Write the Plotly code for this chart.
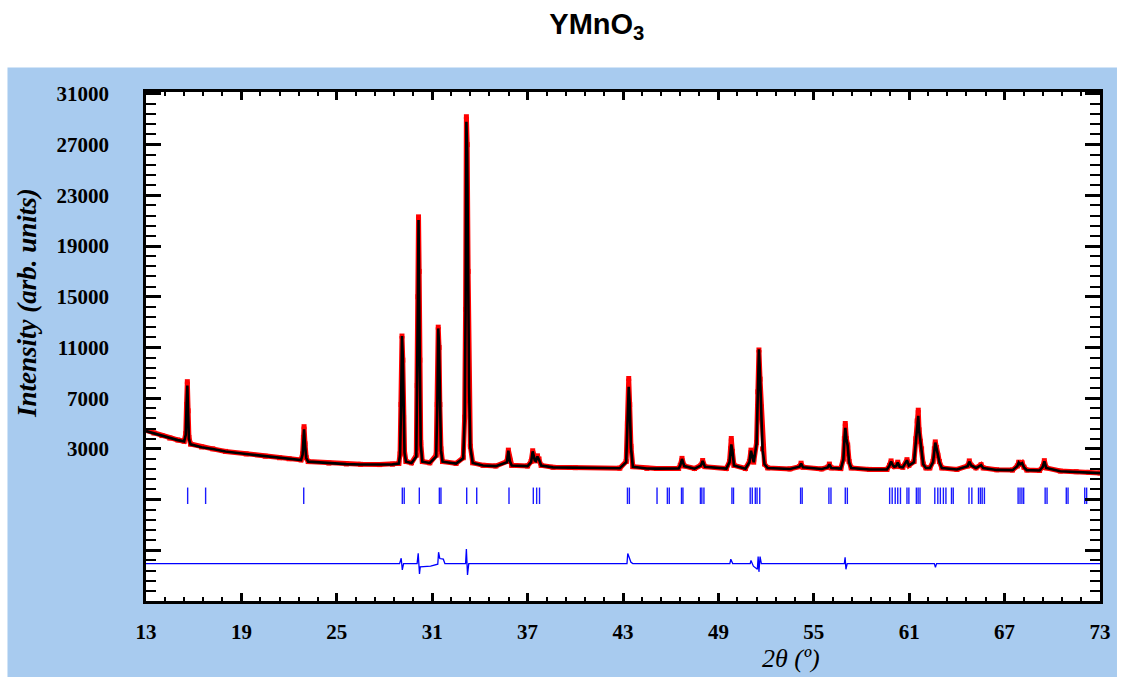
import plotly.graph_objects as go

# ---------------- data ----------------
two_theta = [13.0, 13.5, 14.0, 14.5, 15.0, 15.4,
             15.50, 15.55, 15.60, 15.65, 15.70, 15.80,
             16.5, 17.2, 18.0, 19.3, 20.5, 21.4, 22.0, 22.75,
             22.85, 22.90, 22.94, 23.00, 23.08,
             23.2, 24.5, 25.6, 26.5, 27.7, 28.5, 28.9,
             28.98, 29.04, 29.10, 29.15, 29.20, 29.26, 29.35,
             29.7,
             30.00, 30.06, 30.10, 30.14, 30.18, 30.22, 30.28, 30.38,
             30.85,
             31.25, 31.32, 31.38, 31.43, 31.48, 31.55, 31.65,
             32.5,
             32.95, 33.04, 33.10, 33.15, 33.20, 33.26, 33.32, 33.40, 33.55,
             34.2, 35.0,
             35.70, 35.79, 35.88, 36.0,
             37.0, 37.22, 37.32, 37.45, 37.52, 37.62, 37.72, 37.85,
             38.6, 40.0, 42.8,
             43.20, 43.28, 43.36, 43.42, 43.50, 43.62,
             44.5, 45.1, 46.5,
             46.60, 46.71, 46.85,
             47.5,
             47.90, 48.01, 48.15,
             49.5,
             49.70, 49.76, 49.81, 49.88, 49.98,
             50.7,
             50.95, 51.05, 51.15, 51.22, 51.40, 51.48, 51.55, 51.62, 51.70, 51.78, 51.90, 52.1,
             53.5,
             54.10, 54.20, 54.32,
             55.5,
             55.88, 55.98, 56.10,
             56.7,
             56.86, 56.92, 56.98, 57.05, 57.13, 57.22, 57.35,
             58.5, 59.6,
             59.76, 59.86, 59.98, 60.06, 60.18, 60.28, 60.40, 60.60, 60.86, 60.98,
             61.30, 61.42, 61.50, 61.57, 61.62, 61.70, 61.78, 61.88, 62.05, 62.30,
             62.50, 62.58, 62.64, 62.72, 62.80, 62.90, 63.05,
             64.0,
             64.68, 64.78, 64.90, 65.2, 65.52, 65.65,
             66.5, 67.5,
             67.80, 67.89, 67.98, 68.10, 68.22, 68.4,
             69.2,
             69.40, 69.50, 69.62,
             70.5, 71.5, 72.3, 73.0]

y_obs = [4450, 4250, 4050, 3850, 3700, 3600,
         4200, 6500, 8300, 6000, 3900, 3380,
         3150, 3000, 2800, 2600, 2420, 2300, 2220, 2130,
         2600, 3900, 4750, 3400, 2300,
         2000, 1880, 1810, 1780, 1760, 1790, 1850,
         2600, 6500, 11900, 10000, 5500, 2800, 2000,
         1900,
         2500, 8000, 15000, 21300, 17000, 10000, 3500, 2000,
         1900,
         2500, 6500, 12600, 11000, 6500, 3000, 2000,
         1850,
         2300, 5500, 14000, 29200, 27000, 17000, 8000, 3200, 1900,
         1700, 1650,
         2000, 2900, 2100, 1700,
         1650, 2000, 2850, 2100, 2050, 2450, 2200, 1700,
         1550, 1520, 1480,
         2000, 5000, 8550, 6500, 3200, 1600,
         1460, 1450, 1460,
         1700, 2250, 1650,
         1450,
         1700, 2080, 1600,
         1450,
         2000, 3000, 3820, 2800, 1700,
         1450,
         2000, 2900, 2300, 1950, 3500, 7500, 10800, 8500, 6300, 3000, 1800, 1500,
         1420,
         1600, 1870, 1550,
         1420,
         1550, 1800, 1500,
         1450,
         2200, 3800, 5000, 3800, 3300, 2000, 1500,
         1380, 1380,
         1700, 2050, 1700, 1600, 1650, 1950, 1600, 1550, 2150, 1700,
         2000, 3800, 5200, 6050, 4500, 3600, 3000, 1800, 1500, 1500,
         2000, 3000, 3550, 3100, 2500, 2000, 1500,
         1380,
         1650, 2050, 1700, 1500, 1750, 1500,
         1350, 1330,
         1650, 1950, 1800, 1900, 1550, 1330,
         1300,
         1600, 2070, 1500,
         1250, 1200, 1150, 1100]

y_calc = [4400, 4220, 4030, 3840, 3690, 3590,
          4100, 6300, 8000, 5800, 3800, 3360,
          3130, 2990, 2790, 2590, 2410, 2290, 2210, 2120,
          2550, 3800, 4550, 3300, 2280,
          1990, 1870, 1800, 1770, 1750, 1780, 1840,
          2550, 6300, 11900, 10300, 5400, 2700, 1990,
          1890,
          2400, 7800, 14800, 21050, 17400, 9800, 3300, 1990,
          1890,
          2400, 6300, 12500, 11200, 6300, 2900, 1990,
          1840,
          2250, 5300, 13800, 28800, 26400, 17200, 7800, 3100, 1890,
          1690, 1640,
          1950, 2850, 2050, 1690,
          1640, 1950, 2800, 2080, 2030, 2400, 2150, 1690,
          1540, 1510, 1470,
          1950, 4800, 7900, 6600, 3100, 1590,
          1450, 1440, 1450,
          1680, 2200, 1640,
          1440,
          1680, 2050, 1590,
          1440,
          1950, 2900, 3350, 2850, 1690,
          1440,
          1950, 2850, 2300, 1950, 3400, 7300, 10850, 8700, 6200, 2900, 1790, 1490,
          1410,
          1590, 1850, 1540,
          1410,
          1540, 1780, 1490,
          1440,
          2150, 3600, 4650, 3800, 3250, 1950, 1490,
          1370, 1370,
          1680, 2000, 1690, 1590, 1640, 1920, 1590, 1540, 2100, 1690,
          1950, 3700, 5000, 5600, 4500, 3550, 2950, 1790, 1490, 1490,
          1950, 2950, 3500, 3050, 2450, 1950, 1490,
          1370,
          1630, 2000, 1690, 1490, 1720, 1490,
          1340, 1320,
          1630, 1920, 1780, 1870, 1540, 1320,
          1290,
          1580, 2020, 1490,
          1240, 1190, 1140, 1090]

diff_x = [13.0, 28.95, 29.05, 29.12, 29.2,
          30.05, 30.12, 30.2, 30.25, 30.9, 31.35, 31.40, 31.48, 31.7, 31.8,
          33.10, 33.15, 33.22, 33.30,
          43.25, 43.30, 43.50, 43.62,
          49.72, 49.78, 49.90,
          51.00, 51.05, 51.20, 51.45, 51.50, 51.55, 51.62, 51.70,
          56.92, 56.97, 57.02, 57.10,
          62.58, 62.65, 62.72, 73.0]
diff_y = [-6050, -6050, -5630, -6550, -6050,
          -6050, -5230, -6870, -6300, -6250, -6100, -5150, -5650, -5700, -6050,
          -6050, -4900, -6950, -6050,
          -6050, -5250, -5950, -6050,
          -6050, -5700, -6050,
          -6050, -5800, -6250, -6500, -5500, -6700, -5500, -6050,
          -6050, -5550, -6500, -6050,
          -6050, -6350, -6050, -6050]

bragg_pos = [15.62, 16.75, 22.92, 29.12, 29.24, 30.19, 31.45, 31.55, 33.17, 33.80,
             35.83, 37.36, 37.57, 37.75, 43.28, 43.40, 45.14, 45.79, 45.91,
             46.68, 46.77, 47.87, 47.96, 48.09, 49.85, 49.95,
             51.00, 51.13, 51.32, 51.43, 51.60, 54.17, 54.27, 55.95, 56.08,
             56.98, 57.11, 59.77, 59.93, 60.12, 60.28, 60.45, 60.86, 60.98,
             61.45, 61.56, 61.68, 62.61, 62.80, 62.96, 63.15, 63.31, 63.66, 63.77,
             64.76, 64.94, 65.36, 65.48, 65.59, 65.73, 67.85, 67.97, 68.09, 68.20,
             69.55, 69.67, 70.88, 70.99, 72.04, 72.16]
bragg_top = -50
bragg_bottom = -1350

x_ticks = [13, 19, 25, 31, 37, 43, 49, 55, 61, 67, 73]
y_ticks = [-5000, -1000, 3000, 7000, 11000, 15000, 19000, 23000, 27000, 31000]
y_ticklabels = ["", "", "3000", "7000", "11000", "15000", "19000", "23000", "27000", "31000"]

# ---------------- figure ----------------
SERIF = "Liberation Serif, Times New Roman, serif"
BLUE_BG = "#A8CBEF"

bx, by = [], []
for p in bragg_pos:
    bx += [p, p, None]
    by += [bragg_bottom, bragg_top, None]

fig = go.Figure()
fig.add_trace(go.Scatter(x=two_theta, y=y_obs, mode="lines+markers",
                         line=dict(color="#FF0000", width=5),
                         marker=dict(color="#FF0000", size=5, symbol="square"),
                         showlegend=False, hoverinfo="skip"))
fig.add_trace(go.Scatter(x=two_theta, y=y_calc, mode="lines",
                         line=dict(color="#000000", width=2.6),
                         showlegend=False))
fig.add_trace(go.Scatter(x=bx, y=by, mode="lines",
                         line=dict(color="#1a1aff", width=1.4),
                         showlegend=False, connectgaps=False))
fig.add_trace(go.Scatter(x=diff_x, y=diff_y, mode="lines",
                         line=dict(color="#0000FF", width=1.3),
                         showlegend=False))

fig.update_layout(
    width=1124, height=677,
    margin=dict(l=146, r=24, t=92, b=76),
    paper_bgcolor="white",
    plot_bgcolor="white",
    title=dict(text="<b>YMnO<sub>3</sub></b>", x=0.531, xanchor="center",
               xref="container", y=0.965, yref="container", yanchor="middle",
               font=dict(family="Liberation Sans, Arial, sans-serif", size=29, color="black")),
    shapes=[
        dict(type="rect", xref="paper", yref="paper", x0=-0.1452, x1=1.0178,
             y0=-0.17, y1=1.0481, fillcolor=BLUE_BG, line=dict(width=0), layer="below"),
        dict(type="rect", xref="paper", yref="paper", x0=0, x1=1, y0=0, y1=1,
             fillcolor="white", line=dict(width=0), layer="below"),
    ],
    annotations=[
        dict(text="<b><i>Intensity (arb. units)</i></b>", xref="paper", yref="paper",
             x=-0.1247, y=0.5855, textangle=-90, showarrow=False,
             xanchor="center", yanchor="middle",
             font=dict(family=SERIF, size=27, color="black")),
        dict(text="<i>2θ (º)</i>", xref="paper", yref="paper",
             x=0.6758, y=-0.112, showarrow=False,
             xanchor="center", yanchor="middle",
             font=dict(family=SERIF, size=26, color="black")),
    ],
)

fig.update_xaxes(range=[13, 73], tickvals=x_ticks, ticktext=[str(v) for v in x_ticks],
                 ticks="inside", ticklen=8, tickwidth=2.5, tickcolor="black",
                 minor=dict(ticks="inside", ticklen=4.5, tickwidth=1.5, dtick=1.2, tick0=13,
                            tickcolor="black", showgrid=False),
                 showline=True, linewidth=2.5, linecolor="black", mirror="ticks",
                 showgrid=False, zeroline=False, ticklabelstandoff=10,
                 tickfont=dict(family=SERIF, size=21, color="black", weight="bold"))
fig.update_yaxes(range=[-9000, 31150], tickvals=y_ticks, ticktext=y_ticklabels,
                 ticks="inside", ticklen=15, tickwidth=2.5, tickcolor="black",
                 minor=dict(ticks="inside", ticklen=10, tickwidth=1.5, dtick=800, tick0=3000,
                            tickcolor="black", showgrid=False),
                 showline=True, linewidth=2.5, linecolor="black", mirror="ticks",
                 showgrid=False, zeroline=False, ticklabelstandoff=30,
                 tickfont=dict(family=SERIF, size=21, color="black", weight="bold"))

fig.write_html("out.html")
